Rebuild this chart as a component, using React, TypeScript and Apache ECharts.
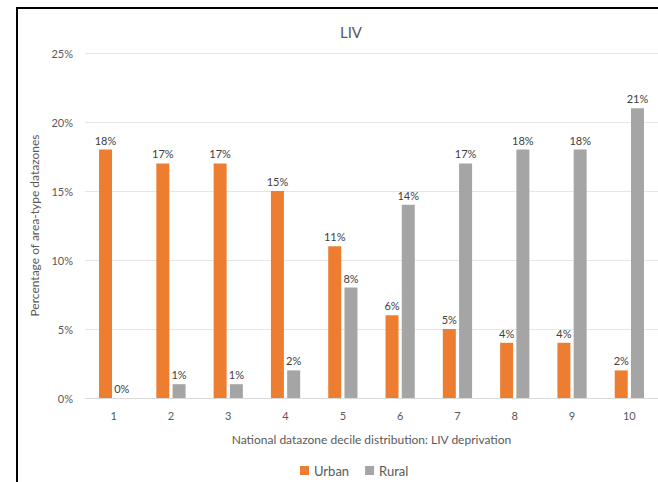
import React, { useEffect, useRef } from "react";
import * as echarts from "echarts";

const categories = ["1", "2", "3", "4", "5", "6", "7", "8", "9", "10"];
const urban = [18, 17, 17, 15, 11, 6, 5, 4, 4, 2];
const rural = [0, 1, 1, 2, 8, 14, 17, 18, 18, 21];
const yTicks = { min: 0, max: 25, interval: 5 };

const FONT = "Lato";

export default function App() {
  const ref = useRef<HTMLDivElement>(null);
  useEffect(() => {
    if (!ref.current) return;
    const chart = echarts.init(ref.current, undefined, { renderer: "svg" });
    const labelStyle = {
      show: true,
      position: "top" as const,
      formatter: "{c}%",
      color: "#404040",
      fontSize: 11,
      fontFamily: FONT,
      distance: 4,
    };
    chart.setOption({
      animation: false,
      backgroundColor: "#ffffff",
      textStyle: { fontFamily: FONT },
      title: {
        text: "LIV",
        left: 346,
        top: 19,
        textAlign: "center",
        textStyle: { fontSize: 15, fontWeight: "normal", color: "#595959", fontFamily: FONT },
      },
      graphic: [
        {
          type: "rect",
          shape: { x: 17, y: 8, width: 660, height: 500 },
          style: { fill: "none", stroke: "#000000", lineWidth: 2 },
          silent: true,
        },
      ],
      legend: {
        left: 295,
        top: 459,
        itemWidth: 9,
        itemHeight: 9,
        itemGap: 16,
        itemStyle: {},
        icon: "rect",
        textStyle: { fontSize: 13, color: "#595959", fontFamily: FONT },
        data: ["Urban", "Rural"],
      },
      grid: { left: 85, right: -4, top: 53, bottom: 84, containLabel: false },
      xAxis: {
        type: "category",
        data: categories,
        name: "National datazone decile distribution: LIV deprivation",
        nameLocation: "middle",
        nameGap: 35,
        nameTextStyle: { fontSize: 12, color: "#595959", fontFamily: FONT },
        axisLine: { lineStyle: { color: "#D9D9D9" } },
        axisTick: { show: false },
        axisLabel: { fontSize: 11, color: "#595959", margin: 12, fontFamily: FONT },
      },
      yAxis: {
        type: "value",
        min: yTicks.min,
        max: yTicks.max,
        interval: yTicks.interval,
        name: "Percentage of area-type datazones",
        nameLocation: "middle",
        nameGap: 42,
        nameTextStyle: { fontSize: 12, color: "#595959", fontFamily: FONT },
        axisLine: { show: false },
        axisTick: { show: false },
        axisLabel: { formatter: "{value}%", fontSize: 11, color: "#595959", margin: 12, fontFamily: FONT },
        splitLine: { lineStyle: { color: "#E6E6E6" } },
      },
      series: [
        {
          name: "Urban",
          type: "bar",
          data: urban,
          itemStyle: { color: "#ED7D31" },
          barWidth: 13,
          barGap: "25%",
          label: labelStyle,
        },
        {
          name: "Rural",
          type: "bar",
          data: rural,
          itemStyle: { color: "#A5A5A5" },
          barWidth: 13,
          barGap: "25%",
          label: labelStyle,
        },
      ],
    });
    return () => chart.dispose();
  }, []);
  return (
    <div
      ref={ref}
      style={{ position: "fixed", left: 0, top: 0, width: 658, height: 482 }}
    />
  );
}
